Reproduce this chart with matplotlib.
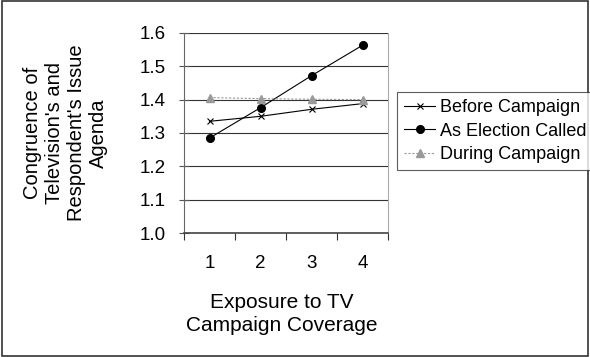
import matplotlib.pyplot as plt

plt.rcParams['font.family'] = ['Liberation Sans', 'DejaVu Sans']

exposure = [1, 2, 3, 4]
before_campaign = [1.335, 1.350, 1.371, 1.388]
election_called = [1.285, 1.376, 1.472, 1.563]
during_campaign = [1.406, 1.403, 1.401, 1.400]
y_ticks = [1.0, 1.1, 1.2, 1.3, 1.4, 1.5, 1.6]

fig = plt.figure(figsize=(5.9, 3.57), dpi=100)
ax = fig.add_axes([0.312, 0.347, 0.346, 0.561])

# category axis: points sit between tick marks
x = [v - 0.5 for v in exposure]

ax.plot(x, before_campaign, color='black', lw=0.8, marker='x', ms=5, mew=0.8,
        label='Before Campaign')
ax.plot(x, election_called, color='black', lw=0.8, marker='o', ms=5.5,
        label='As Election Called')
ax.plot(x, during_campaign, color='#999999', lw=0.8, ls=(0, (2, 1.5)), marker='^', ms=5.5,
        label='During Campaign')

ax.set_xlim(0, 4)
ax.set_ylim(1.0, 1.6)
ax.set_yticks(y_ticks)
ax.set_yticklabels([f'{v:.1f}' for v in y_ticks], fontsize=13.5)
ax.set_xticks([0, 1, 2, 3, 4])
ax.set_xticklabels([])
for i, v in enumerate(exposure):
    ax.text(x[i], -0.15, str(v), transform=ax.get_xaxis_transform(),
            ha='center', va='center', fontsize=13.5)

ax.grid(axis='y', color='#333333', lw=0.8)
ax.set_axisbelow(True)
ax.tick_params(axis='y', length=7, direction='inout', color='#555555', pad=10)
ax.tick_params(axis='x', length=5, direction='out', color='#333333')
ax.spines['top'].set_visible(False)
ax.spines['left'].set_color('#666666')
ax.spines['right'].set_color('#aaaaaa')
ax.spines['bottom'].set_color('#444444')
ax.spines['bottom'].set_linewidth(1.2)

ax.set_ylabel("Congruence of\nTelevision's and\nRespondent's Issue\nAgenda", fontsize=14.5,
              linespacing=1.2, va='center')
ax.yaxis.set_label_coords(-0.58, 0.5)
ax.set_xlabel("Exposure to TV\nCampaign Coverage", fontsize=15, linespacing=1.25, va='center')
ax.xaxis.set_label_coords(0.48, -0.405)

leg = fig.legend(loc='upper left', bbox_to_anchor=(0.673, 0.742), fontsize=13,
                 frameon=True, fancybox=False, edgecolor='#333333', borderpad=0.4,
                 labelspacing=0.35, handlelength=1.7, handletextpad=0.3, borderaxespad=0)
leg.get_frame().set_linewidth(0.8)

fig.patches.append(plt.Rectangle((0.003, 0.004), 0.994, 0.992, transform=fig.transFigure,
                                 fill=False, edgecolor='#333333', lw=1.2))

fig.savefig('out.png', dpi=100)
